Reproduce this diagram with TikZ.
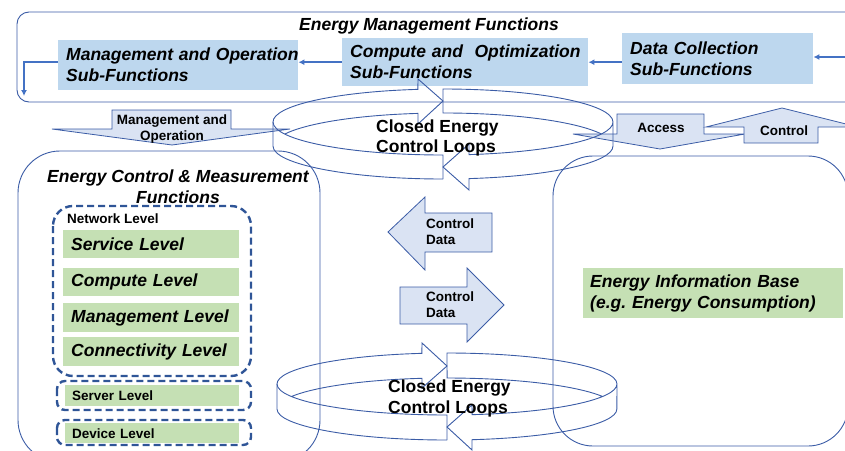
\documentclass[tikz,border=0pt]{standalone}
\usepackage{fontspec}
\setmainfont{Liberation Sans}
\usetikzlibrary{arrows.meta}
\frenchspacing

\definecolor{subblue}{HTML}{BDD7EE}
\definecolor{lvlgreen}{HTML}{C5E0B4}
\definecolor{arrfill}{HTML}{DAE3F3}
\definecolor{edgeblue}{HTML}{3B5CA6}
\definecolor{flowblue}{HTML}{4472C4}
\definecolor{dashblue}{HTML}{2F5597}

\tikzset{
  bigtext/.style={font=\fontsize{17.5}{21}\selectfont\bfseries\itshape},
  smalltext/.style={font=\fontsize{13.5}{16}\selectfont\bfseries},
  subfn/.style={bigtext, fill=subblue, anchor=north west, align=left, inner xsep=8pt, inner ysep=0pt},
  lvl/.style={bigtext, fill=lvlgreen, anchor=north west, minimum width=176pt, text width=160pt, align=left, inner xsep=8pt, inner ysep=0pt},
  lowlvl/.style={smalltext, fill=lvlgreen, anchor=north west, minimum width=174pt, text width=160pt, align=left, inner xsep=7pt, inner ysep=0pt},
  edge/.style={draw=edgeblue, line width=0.9pt},
  blockarr/.style={draw=edgeblue, fill=arrfill, line width=0.8pt},
  dashbox/.style={draw=dashblue, line width=2.4pt, dash pattern=on 7pt off 4pt},
  flow/.style={draw=flowblue, line width=1.6pt, -{Latex[length=6pt,width=6pt]}},
}

\begin{document}
\begin{tikzpicture}[x=1pt,y=-1pt]
\useasboundingbox (0,0) rectangle (845,450);
\clip (0,0) rectangle (845,450);

\draw[edge, rounded corners=12] (17,12) rectangle (880,102);
\node[bigtext] (emf) at (429,26) {Energy Management Functions};
\node[subfn, minimum width=240pt, text width=224pt, minimum height=50pt] (mgmt) at (58,40) {\mbox{Management and Operation}\\Sub-Functions};
\node[subfn, minimum width=246pt, text width=230pt, minimum height=48pt] (compute) at (342,38) {\mbox{Compute and \ Optimization}\\Sub-Functions};
\node[subfn, minimum width=191pt, text width=175pt, minimum height=51pt] (data) at (622,33) {Data Collection\\Sub-Functions};
\coordinate (feed) at (850,57);
\coordinate (back) at (24,96);
\draw[flow] (feed) -- (data.east |- feed);
\draw[flow] (data.west |- compute.east) -- (compute.east);
\draw[flow] (compute.west) -- (compute.west -| mgmt.east);
\draw[flow] (mgmt.west |- compute.west) -| (back);

\draw[edge, rounded corners=42] (18,151) rectangle (320,462);
\draw[edge, rounded corners=40] (553,156) rectangle (848,446);
\node[bigtext, align=center] (ecmf) at (178,187) {Energy Control \& Measurement\\Functions};

\draw[dashbox, rounded corners=20] (53,206) rectangle (251,376);
\draw[dashbox, rounded corners=8] (57,381) rectangle (251,410);
\draw[dashbox, rounded corners=8] (57,420) rectangle (251,445);
\node[smalltext, anchor=west, inner sep=0pt] (netlvl) at (67,219) {Network Level};
\node[lvl, minimum height=28pt] (service) at (63,230) {Service Level};
\node[lvl, minimum height=28pt] (computelvl) at (63,268) {Compute Level};
\node[lvl, minimum height=29pt] (mgmtlvl) at (63,303) {Management Level};
\node[lvl, minimum height=29pt] (connlvl) at (63,337) {Connectivity Level};
\node[lowlvl, minimum height=21pt] (server) at (65,385) {Server Level};
\node[lowlvl, minimum height=20pt] (device) at (65,423) {Device Level};

\node[bigtext, fill=lvlgreen, anchor=north west, minimum width=260pt, text width=246pt, minimum height=50pt, align=left, inner xsep=7pt, inner ysep=0pt] (eib) at (583,268) {Energy Information Base\\(e.g. Energy Consumption)};

\draw[blockarr] (112,110) -- (231,110) -- (231,129) -- (290,129) -- (172,145) -- (52,129) -- (112,129) -- cycle;
\node[smalltext, align=center] (mo) at (172,129) {Management and\\Operation};
\draw[blockarr] (617,114) -- (704,114) -- (704,134) -- (745,134) -- (660,149) -- (573,134) -- (617,134) -- cycle;
\node[smalltext] (access) at (661,128) {Access};
\draw[blockarr] (744,143) -- (818,143) -- (818,127) -- (858,127) -- (782,108) -- (706,127) -- (744,127) -- cycle;
\node[smalltext] (ctrl) at (784,131) {Control};

\draw[blockarr] (492,213) -- (492,252) -- (425,252) -- (425,270) -- (388,232) -- (425,197) -- (425,213) -- cycle;
\node[smalltext, align=left, anchor=west, inner sep=0pt] (cdleft) at (426,232) {Control\\Data};
\draw[blockarr] (400,287) -- (467,287) -- (467,268) -- (504,305) -- (467,342) -- (467,324) -- (400,324) -- cycle;
\node[smalltext, align=left, anchor=west, inner sep=0pt] (cdright) at (426,305) {Control\\Data};

\draw[edge] (443,179) -- (443,155)
  arc[start angle=90, end angle=180, x radius=170, y radius=33]
  arc[start angle=180, end angle=261.5, x radius=170, y radius=33]
  -- (418,79) -- (443,101) -- (418,124) -- (418,113.4)
  arc[start angle=261.5, end angle=201.3, x radius=170, y radius=33];
\draw[edge] (273,122) -- (273,146) arc[start angle=180, end angle=90, x radius=170, y radius=33];
\draw[edge] (601.4,134) arc[start angle=-21.3, end angle=-90, x radius=170, y radius=33]
  -- (443,89) arc[start angle=-90, end angle=81.2, x radius=170, y radius=33]
  -- (469,144) -- (443,167) -- (469,190) -- (469,178.6)
  arc[start angle=81.2, end angle=0, x radius=170, y radius=33] -- (613,122);
\node[bigtext, font=\fontsize{17.5}{20}\selectfont\bfseries, align=left, anchor=west, inner sep=0pt] (loopup) at (376,138) {Closed Energy\\Control Loops};

\draw[edge] (447,440) -- (447,415)
  arc[start angle=90, end angle=180, x radius=170, y radius=31]
  arc[start angle=180, end angle=261.5, x radius=170, y radius=31]
  -- (422,343) -- (447,366) -- (422,388) -- (422,378.3)
  arc[start angle=261.5, end angle=203.8, x radius=170, y radius=31];
\draw[edge] (277,384) -- (277,409) arc[start angle=180, end angle=90, x radius=170, y radius=31];
\draw[edge] (602.6,396.5) arc[start angle=-23.8, end angle=-90, x radius=170, y radius=31]
  -- (447,353) arc[start angle=-90, end angle=81.5, x radius=170, y radius=31]
  -- (472,405) -- (447,427) -- (472,450) -- (472,439.7)
  arc[start angle=81.5, end angle=0, x radius=170, y radius=31] -- (617,384);
\node[bigtext, font=\fontsize{17.5}{21}\selectfont\bfseries, align=left, anchor=west, inner sep=0pt] (looplow) at (388,398) {Closed Energy\\Control Loops};
\end{tikzpicture}
\end{document}
